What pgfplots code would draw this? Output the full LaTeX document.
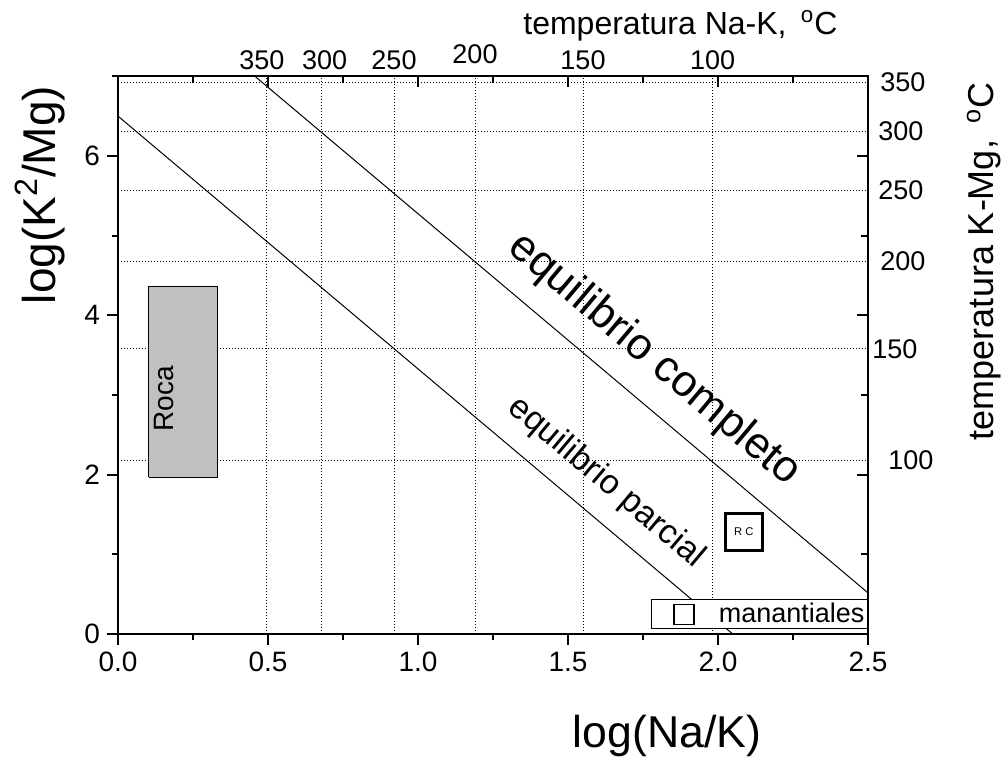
\documentclass[border=0pt]{standalone}
\usepackage{pgfplots}
\usepackage{pgfplotstable}
\pgfplotsset{compat=1.18}
\usepackage{fontspec}
\setmainfont{Liberation Sans}
\newcommand{\fs}[1]{\fontsize{#1}{#1}\selectfont}
\definecolor{rocagray}{RGB}{192,192,192}

% equilibrium lines, log(Na/K) vs log(K^2/Mg)
\pgfplotstableread{
x      y
0.4565 7.000
2.5    0.516
}\completo
\pgfplotstableread{
x      y
0.0    6.50
2.049  0.00
}\parcial

\begin{document}
\begin{tikzpicture}
\useasboundingbox (-59pt,-64.5pt) rectangle (441.5pt,317pt);
\pgfplotsset{
  common/.style={
    scale only axis, width=375pt, height=278.85pt,
    xmin=0, xmax=2.5, ymin=0, ymax=7,
    at={(0,0)}, anchor=south west,
    /pgf/number format/assume math mode=true,
  },
}

% temperature scales (Na-K on top, K-Mg on the right) with their grid
\begin{axis}[common,
  axis line style={draw=none},
  xtick={0.496,0.679,0.92,1.19,1.55,1.982},
  xticklabels={\hspace*{-5pt}350,\hspace*{3pt}300,250,\raisebox{3pt}{200},150,\raisebox{-1pt}{100}},
  ytick={6.923,6.306,5.570,4.679,3.578,2.182},
  yticklabels={350,\hspace*{-1pt}300,\hspace*{-1pt}250,200,\hspace*{-4pt}150,\hspace*{4pt}100},
  xtick pos=right, xticklabel pos=right,
  ytick pos=right, yticklabel pos=right,
  major tick length=0pt,
  xmajorgrids, ymajorgrids,
  major grid style={line width=0.5pt, black, dash pattern=on 0.5pt off 1pt},
  xticklabel style={font=\fs{13.5}, inner sep=0pt, yshift=3pt},
  yticklabel style={font=\fs{13.5}, inner sep=0pt, xshift=6pt},
]
\end{axis}

% main axis
\begin{axis}[common,
  axis line style={line width=1pt},
  tick align=outside, xtick pos=left, ytick pos=left,
  xtick={0,0.5,1,1.5,2,2.5},
  minor xtick={0.25,0.75,1.25,1.75,2.25},
  ytick={0,2,4,6},
  minor ytick={1,3,5,7},
  major tick length=5.5pt, minor tick length=3pt,
  every tick/.style={line width=1pt, black},
  xticklabel style={font=\fs{14},
    /pgf/number format/fixed, /pgf/number format/fixed zerofill,
    /pgf/number format/precision=1},
  yticklabel style={font=\fs{14}},
  xlabel={log(Na/K)},
  xlabel style={font=\fs{22.3}, at={(rel axis cs:0.732,0)}, anchor=base,
    yshift=-57pt, inner sep=0pt},
  legend style={at={(rel axis cs:1,0)}, anchor=south east, yshift=2.5pt,
    draw=black, line width=0.5pt, fill=white, inner sep=0pt,
    font=\fs{13.5}, nodes={inner sep=1.5pt}},
  legend image code/.code={
    \path[draw=none, fill=none] (0pt,-5pt) rectangle (32pt,5pt);
    \draw[black, line width=0.6pt, fill=none] (11pt,-5pt) rectangle (21pt,5pt);},
]
  % rock composition field
  \addplot[fill=rocagray, draw=black, line width=0.5pt, forget plot]
    coordinates {(0.103,1.97) (0.332,1.97) (0.332,4.36) (0.103,4.36) (0.103,1.97)};
  \node[rotate=90, font=\fs{14}] at (axis cs:0.153,2.95) {Roca};

  % full and partial equilibrium lines
  \addplot[black, line width=0.5pt, forget plot] table[x=x, y=y] {\completo};
  \addplot[black, line width=0.5pt, forget plot] table[x=x, y=y] {\parcial};
  \node[rotate=-40.1, font=\fs{22}] at (axis cs:1.787,3.44) {equilibrio completo};
  \node[rotate=-40.1, font=\fs{17}] at (axis cs:1.628,1.90) {equilibrio parcial};

  % spring sample
  \addplot[only marks, mark=square, mark size=9.25pt, black,
    mark options={line width=1.5pt, solid}, forget plot]
    coordinates {(2.086,1.284)};
  \node[font=\fs{5.6}] at (axis cs:2.086,1.284) {R C};

  \addlegendimage{black}
  \addlegendentry{manantiales}
\end{axis}

% inward ticks on the top and right edges
\begin{axis}[common,
  axis line style={line width=1pt},
  tick align=inside, xtick pos=right, ytick pos=right,
  xtick={0,0.5,1,1.5,2,2.5},
  minor xtick={0.25,0.75,1.25,1.75,2.25},
  ytick={0,2,4,6},
  minor ytick={1,3,5,7},
  major tick length=5.5pt, minor tick length=3.5pt,
  every tick/.style={line width=1pt, black},
  xticklabels={}, yticklabels={},
]
\end{axis}

% axis and scale titles
\node[font=\fs{23}, anchor=base, rotate=90, inner sep=0pt] at (-31pt,219.5pt)
  {log(K\textsuperscript{2}/Mg)};
\node[font=\fs{16}, anchor=base west, inner sep=0pt] at (202.5pt,299.5pt)
  {temperatura Na-K,\ \,\textsuperscript{o}C};
\node[font=\fs{18}, anchor=base, rotate=90, inner sep=0pt] at (437.5pt,186.25pt)
  {temperatura K-Mg,\ \,\textsuperscript{o}C};
\end{tikzpicture}
\end{document}
